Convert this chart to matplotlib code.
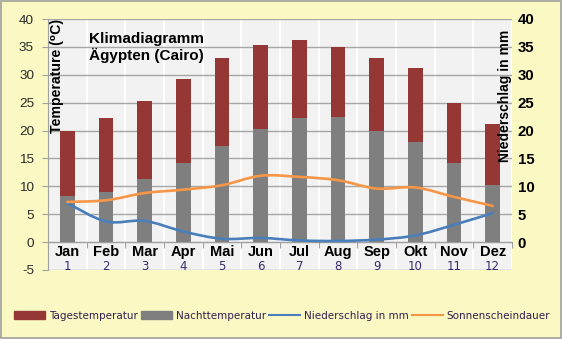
import numpy as np
import matplotlib.pyplot as plt
from matplotlib.path import Path
from matplotlib.patches import PathPatch, Patch, Rectangle
from matplotlib.lines import Line2D

# Monatswerte Kairo
months = ["Jan", "Feb", "Mar", "Apr", "Mai", "Jun", "Jul", "Aug", "Sep", "Okt", "Nov", "Dez"]
month_nums = list(range(1, 13))
tag_temp = [20.0, 22.2, 25.3, 29.2, 33.0, 35.3, 36.2, 35.0, 33.0, 31.3, 24.9, 21.1]
nacht_temp = [8.2, 9.0, 11.3, 14.2, 17.2, 20.3, 22.2, 22.4, 19.9, 18.0, 14.2, 10.3]
niederschlag = [7.0, 3.7, 3.8, 1.9, 0.6, 0.75, 0.3, 0.2, 0.45, 1.2, 3.1, 5.2]
sonne = [7.2, 7.5, 8.8, 9.4, 10.2, 11.9, 11.7, 11.1, 9.6, 9.8, 8.1, 6.5]

left_ticks = [-5, 0, 5, 10, 15, 20, 25, 30, 35, 40]
right_ticks = [0, 5, 10, 15, 20, 25, 30, 35, 40]

BG = "#FAF9C3"
RED = "#953735"
GRAY = "#7F7F7F"
BLUE = "#4A7EBB"
ORANGE = "#F79646"
ARIAL = ["Liberation Sans", "DejaVu Sans"]


def smooth_path(x, y):
    # Catmull-Rom -> Bezier, so the line looks like Excel's smoothed lines
    pts = np.column_stack([x, y]).astype(float)
    verts = [pts[0]]
    codes = [Path.MOVETO]
    n = len(pts)
    for i in range(n - 1):
        p0 = pts[i - 1] if i > 0 else pts[i]
        p1 = pts[i]
        p2 = pts[i + 1]
        p3 = pts[i + 2] if i + 2 < n else pts[i + 1]
        verts += [p1 + (p2 - p0) / 6, p2 - (p3 - p1) / 6, p2]
        codes += [Path.CURVE4] * 3
    return Path(verts, codes)


fig = plt.figure(figsize=(5.62, 3.39), dpi=100, facecolor=BG)
fig.patches.append(Rectangle((0.001, 0.002), 0.997, 0.995, transform=fig.transFigure,
                             fill=False, edgecolor="#A0A0A0", lw=1.2))

ax = fig.add_axes([48 / 562, 69 / 339, 464 / 562, 251 / 339])
ax.set_facecolor("#F2F2F2")
x = np.array(month_nums)

ax.bar(x, tag_temp, width=0.38, color=RED, zorder=2)
ax.bar(x, nacht_temp, width=0.38, color=GRAY, zorder=3)

ax.set_xlim(0.5, 12.5)
ax.set_ylim(-5, 40)
ax.set_yticks(left_ticks)
ax.set_yticklabels([str(t) for t in left_ticks], family=ARIAL, fontsize=9.7, color="#2A2A2A")
ax.tick_params(axis="y", length=4, color="#A0A0A0", pad=6)
ax.yaxis.grid(True, color="#A6A6A6", lw=1, zorder=0)

# vertical lines between the months, x axis at 0
ax.set_xticks(np.arange(0.5, 13, 1))
ax.set_xticklabels([])
ax.tick_params(axis="x", length=4, color="#A0A0A0", direction="out")
ax.xaxis.grid(True, color="white", lw=1.5, zorder=0)
ax.spines["bottom"].set_position(("data", 0))
ax.spines["bottom"].set_color("#A0A0A0")
ax.spines["left"].set_color("#A0A0A0")
ax.spines["top"].set_visible(False)
ax.spines["right"].set_visible(False)

for xi, m, num in zip(x, months, month_nums):
    ax.text(xi, -0.5, m, ha="center", va="top", fontsize=10.5, fontweight="bold",
            family=ARIAL, color="black")
    ax.text(xi, -4.4, str(num), ha="center", va="center", fontsize=8.5,
            color="#3A2A6A")

ax2 = ax.twinx()
ax2.set_ylim(-5, 40)
ax2.set_yticks(right_ticks)
ax2.set_yticklabels([str(t) for t in right_ticks], family=ARIAL, fontsize=10.8,
                    fontweight="bold")
ax2.tick_params(axis="y", length=0, pad=4)
for s in ax2.spines.values():
    s.set_visible(False)

ax2.add_patch(PathPatch(smooth_path(x, niederschlag), fill=False, edgecolor=BLUE,
                        lw=1.9, capstyle="round", zorder=5))
ax2.add_patch(PathPatch(smooth_path(x, sonne), fill=False, edgecolor=ORANGE,
                        lw=1.9, capstyle="round", zorder=5))

ax2.text(0.088, 0.948, "Klimadiagramm\nÄgypten (Cairo)", transform=ax2.transAxes,
         ha="left", va="top", fontsize=11, fontweight="bold", family=ARIAL,
         linespacing=1.15)
ax2.text(0.004, 1.0, "Temperature (⁰C)", transform=ax2.transAxes, rotation=90,
         ha="left", va="top", fontsize=10.2, fontweight="bold", family=ARIAL)
ax2.text(1.0, 0.956, "Niederschlag in mm", transform=ax2.transAxes, rotation=90,
         ha="right", va="top", fontsize=10, fontweight="bold", family=ARIAL)

handles = [Patch(color=RED), Patch(color=GRAY),
           Line2D([], [], color=BLUE, lw=1.5), Line2D([], [], color=ORANGE, lw=1.5)]
labels = ["Tagestemperatur", "Nachttemperatur", "Niederschlag in mm", "Sonnenscheindauer"]
leg = fig.legend(handles, labels, loc="center", bbox_to_anchor=(0.502, 0.069), ncol=4,
                 frameon=False, fontsize=7.5, handlelength=3.0, handletextpad=0.35,
                 columnspacing=0.3, borderaxespad=0)
for t in leg.get_texts():
    t.set_color("#302050")

fig.savefig("out.png", dpi=100, facecolor=BG)
